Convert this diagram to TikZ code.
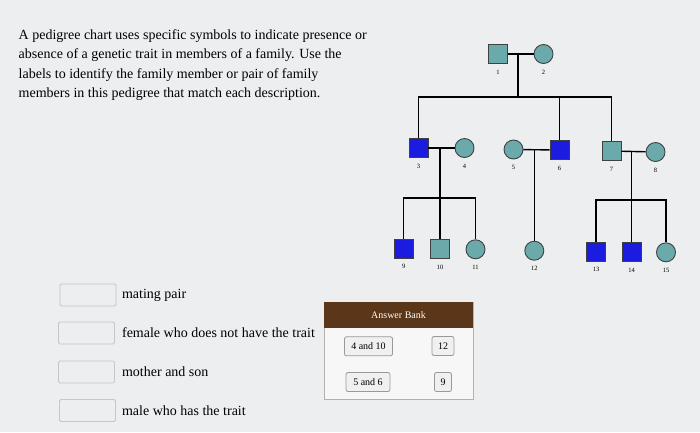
\documentclass[tikz,border=0pt]{standalone}
\usepackage{fontspec}
\setmainfont{Liberation Serif}
\usetikzlibrary{positioning}
\definecolor{bgcol}{HTML}{ECEEF0}
\definecolor{healthy}{HTML}{6BAAAA}
\definecolor{trait}{HTML}{1C1CE0}
\definecolor{bankhead}{HTML}{5B3618}
\tikzset{
	male/.style={draw=black!75, fill=healthy, minimum size=19pt, inner sep=0pt, line width=0.9pt},
	female/.style={male, circle},
	hasit/.style={fill=trait},
	num/.style={font=\fontsize{6.5}{7}\selectfont, label distance=2pt},
	ansbox/.style={draw=gray!45, line width=0.8pt, rounded corners=1.5pt, minimum width=56pt, minimum height=22pt},
	desc/.style={font=\fontsize{14}{16}\selectfont, inner sep=0pt, anchor=west},
	chip/.style={draw=gray!80, line width=0.8pt, fill=gray!12, rounded corners=2pt, minimum height=19pt, inner sep=2pt, font=\fontsize{10}{11}\selectfont}
}
\begin{document}
\begin{tikzpicture}[x=1pt,y=-1pt,line width=1.4pt]
	\fill[bgcol] (0,0) rectangle (700,432);
	\useasboundingbox (0,0) rectangle (700,432);
	% question text
	\node[desc, anchor=north west, align=left, font=\fontsize{14}{19.3}\selectfont] (intro) at (18,29) {A pedigree chart uses specific symbols to indicate presence or\\
	absence of a genetic trait in members of a family. Use the\\
	labels to identify the family member or pair of family\\
	members in this pedigree that match each description.};
	% generation I
	\node[male, label={[num]below:1}] (n1) at (498,54) {};
	\node[female, label={[num]below:2}] (n2) at (543.5,54) {};
	% generation II
	\node[male, hasit, label={[num]below:3}] (n3) at (418.5,148) {};
	\node[female, label={[num]below:4}] (n4) at (464.5,148) {};
	\node[female, label={[num]below:5}] (n5) at (513.5,149.5) {};
	\node[male, hasit, label={[num]below:6}] (n6) at (559.5,150) {};
	\node[male, label={[num]below:7}] (n7) at (611.5,151) {};
	\node[female, label={[num]below:8}] (n8) at (655.5,152) {};
	% generation III
	\node[male, hasit, label={[num]below:9}] (n9) at (403.7,248.5) {};
	\node[male, label={[num]below:10}] (n10) at (440,249) {};
	\node[female, label={[num]below:11}] (n11) at (475.5,249.3) {};
	\node[female, label={[num]below:12}] (n12) at (534.3,250.7) {};
	\node[male, hasit, label={[num]below:13}] (n13) at (596,251.5) {};
	\node[male, hasit, label={[num]below:14}] (n14) at (631.7,252) {};
	\node[female, label={[num]below:15}] (n15) at (666,252.3) {};
	% matings and sibships
	\coordinate (m12) at (518,54);
	\coordinate (s1) at (518,97);
	\draw (n1) -- (n2);
	\draw (m12) -- (s1);
	\draw (n3.north) |- (s1) -| (n7.north);
	\draw (n6.north) -- (n6.north |- s1);
	\coordinate (m34) at (440,148);
	\coordinate (s2) at (440,198);
	\draw (n3) -- (n4);
	\draw (m34) -- (s2) -- (n10.north);
	\draw (n9.north) |- (s2) -| (n11.north);
	\coordinate (m56) at (534.3,150);
	\draw (n5) -- (n6);
	\draw (m56) -- (n12.north);
	\coordinate (m78) at (631.7,151.5);
	\coordinate (s3) at (631.7,200);
	\draw (n7) -- (n8);
	\draw (m78) -- (s3) -- (n14.north);
	\draw (n13.north) |- (s3) -| (n15.north);
	% answer slots
	\node[ansbox] (b1) at (88,295) {};
	\node[ansbox] (b2) at (86.5,333) {};
	\node[ansbox] (b3) at (86.5,372) {};
	\node[ansbox] (b4) at (87.5,410.5) {};
	\node[desc, right=5pt of b1] (d1) {mating pair};
	\node[desc, right=6.5pt of b2] (d2) {female who does not have the trait};
	\node[desc, right=6.5pt of b3] (d3) {mother and son};
	\node[desc, right=5.5pt of b4] (d4) {male who has the trait};
	% answer bank
	\draw[gray!60, line width=0.8pt, fill=gray!6] (324,302) rectangle (473,399);
	\fill[bankhead] (324,302) rectangle (473,328);
	\node[text=white, font=\fontsize{10}{11}\selectfont] (bank) at (398.5,315) {Answer Bank};
	\node[chip, minimum width=48pt] (a1) at (368.5,346.3) {4 and 10};
	\node[chip, minimum width=22pt] (a2) at (443,346) {12};
	\node[chip, minimum width=44pt] (a3) at (368,382) {5 and 6};
	\node[chip, minimum width=17pt] (a4) at (443,382) {9};
\end{tikzpicture}
\end{document}
